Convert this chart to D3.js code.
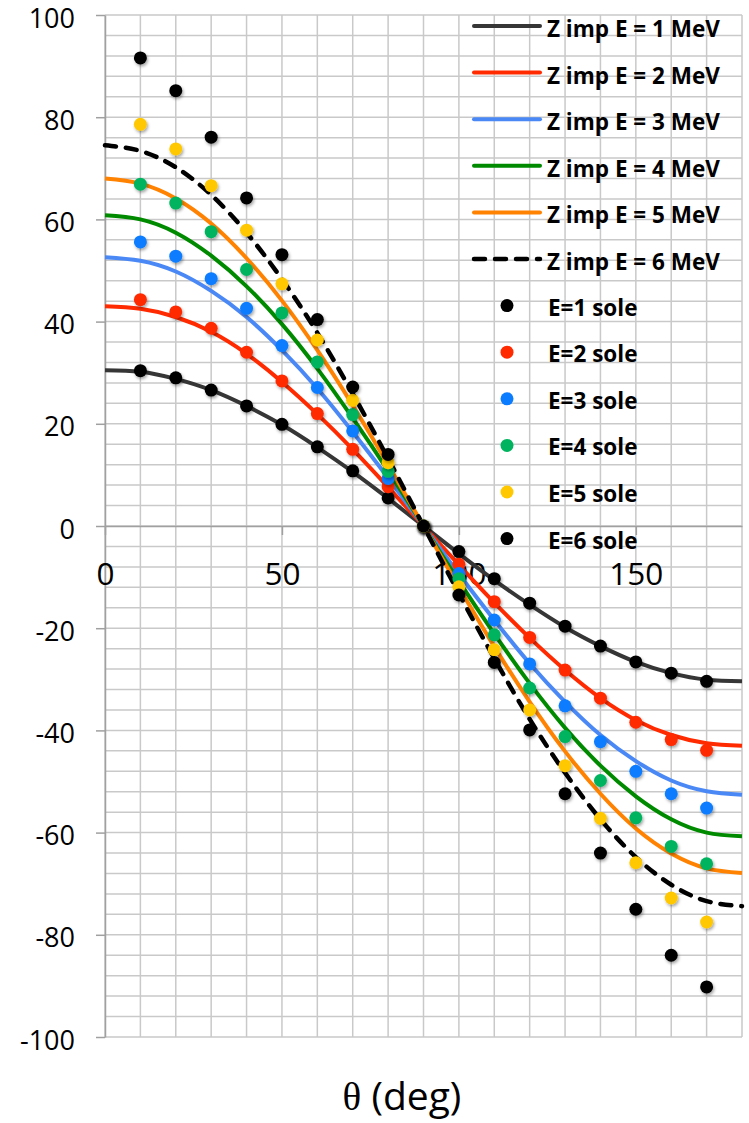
<!DOCTYPE html>
<html>
<head>
<meta charset="utf-8">
<script src="https://cdn.jsdelivr.net/npm/d3@7"></script>
<style>
  html, body { margin: 0; padding: 0; background: #ffffff; }
  svg { display: block; }
</style>
</head>
<body>
<div id="chart"></div>
<script>
// ---------- data ----------
const curveAngles = [0,10,20,30,40,50,60,70,80,90,100,110,120,130,140,150,160,170,180];
const zimpE1 = [30.5,30.2,28.8,26.6,23.5,19.8,15.4,10.6,5.4,0,-5.4,-10.6,-15.4,-19.8,-23.5,-26.6,-28.8,-30.1,-30.4];
const zimpE2 = [43.0,42.5,40.9,38.0,33.7,28.2,21.9,15.0,7.6,0,-7.6,-15.0,-21.9,-28.2,-33.7,-38.0,-40.9,-42.5,-43.0];
const zimpE3 = [52.6,51.9,49.8,46.0,40.9,34.4,26.9,18.4,9.4,0,-9.4,-18.4,-26.9,-34.4,-40.9,-46.0,-49.8,-51.9,-52.6];
const zimpE4 = [60.8,60.0,57.4,52.9,46.9,39.5,30.8,21.1,10.8,0,-10.8,-21.1,-30.8,-39.5,-46.9,-52.9,-57.4,-60.0,-60.7];
const zimpE5 = [68.0,67.0,64.1,59.2,52.4,44.1,34.4,23.6,12.0,0,-12.0,-23.6,-34.4,-44.1,-52.4,-59.2,-64.1,-67.0,-67.9];
const zimpE6 = [74.5,73.4,70.2,64.8,57.4,48.3,37.8,25.9,13.2,0,-13.2,-25.9,-37.8,-48.3,-57.4,-64.8,-70.2,-73.4,-74.4];

const dotAngles = [10,20,30,40,50,60,70,80,90,100,110,120,130,140,150,160,170];
const soleE1 = [30.4,29.0,26.6,23.5,19.9,15.5,10.8,5.5,0,-5.0,-10.3,-15.1,-19.6,-23.5,-26.6,-28.8,-30.4];
const soleE2 = [44.3,41.9,38.7,34.0,28.4,22.0,15.0,7.7,0,-7.5,-14.8,-21.8,-28.2,-33.7,-38.4,-41.8,-43.9];
const soleE3 = [55.6,52.8,48.4,42.6,35.3,27.1,18.6,9.3,0,-9.3,-18.4,-27.0,-35.2,-42.2,-48.0,-52.4,-55.2];
const soleE4 = [66.9,63.2,57.6,50.2,41.7,32.1,21.8,10.7,0,-10.3,-21.3,-31.7,-41.2,-49.8,-57.1,-62.7,-66.1];
const soleE5 = [78.6,73.8,66.6,57.9,47.4,36.4,24.6,12.4,0,-11.9,-24.2,-36.0,-46.9,-57.2,-65.9,-72.8,-77.5];
const soleE6 = [91.6,85.2,76.1,64.2,53.1,40.4,27.2,14.0,0,-13.5,-26.7,-39.9,-52.4,-64.0,-75.0,-84.0,-90.2];

const lineNames = ["Z imp E = 1 MeV","Z imp E = 2 MeV","Z imp E = 3 MeV","Z imp E = 4 MeV","Z imp E = 5 MeV","Z imp E = 6 MeV"];
const dotNames = ["E=1 sole","E=2 sole","E=3 sole","E=4 sole","E=5 sole","E=6 sole"];
const xTicks = [0,50,100,150];
const yTicks = [-100,-80,-60,-40,-20,0,20,40,60,80,100];
const xTitleSymbol = "θ";
const xTitleText = " (deg)";

// ---------- styles ----------
const lineColors = ["#363636","#ff2a00","#4a88f6","#008a00","#ff8200","#000000"];
const dotColors  = ["#000000","#ff2a00","#0a7cff","#00b45f","#ffc800","#000000"];

const W = 749, H = 1123;
const svg = d3.select("#chart").append("svg")
  .attr("width", W).attr("height", H)
  .style("font-family", "'Open Sans', sans-serif");
svg.append("rect").attr("width", W).attr("height", H).attr("fill", "#fff");

const defs = svg.append("defs");
const f = defs.append("filter").attr("id","shadow")
  .attr("x","-50%").attr("y","-50%").attr("width","200%").attr("height","200%");
f.append("feDropShadow").attr("dx",1.2).attr("dy",2).attr("stdDeviation",1.4)
  .attr("flood-color","#000").attr("flood-opacity",0.35);

const x = d3.scaleLinear().domain([0,180]).range([105,742]);
const y = d3.scaleLinear().domain([-100,100]).range([1037,15]);
const plainFmt = d => String(d);

// grid
const grid = svg.append("g");
grid.selectAll("line.v").data(d3.range(0,181,10)).join("line")
  .attr("x1", d=>x(d)).attr("x2", d=>x(d)).attr("y1", y(100)).attr("y2", y(-100))
  .attr("stroke","#c9c9c9").attr("stroke-width",1.5);
grid.selectAll("line.h").data(d3.range(-100,101,4)).join("line")
  .attr("y1", d=>y(d)).attr("y2", d=>y(d)).attr("x1", x(0)).attr("x2", x(180))
  .attr("stroke","#c9c9c9").attr("stroke-width",1.5);

// axes
const yAxis = svg.append("g").attr("transform",`translate(${x(0)},0)`)
  .call(d3.axisLeft(y).tickValues(yTicks).tickFormat(plainFmt).tickSize(9).tickSizeOuter(0).tickPadding(21));
yAxis.select(".domain").attr("stroke","#a0a0a0").attr("stroke-width",1.5);
yAxis.selectAll(".tick line").attr("stroke","#a0a0a0").attr("stroke-width",1.5);
yAxis.selectAll(".tick text").attr("font-size",27).attr("font-family","'Open Sans', sans-serif")
  .attr("fill","#000").attr("dy","0.45em");

const xAxis = svg.append("g").attr("transform",`translate(0,${y(0)})`)
  .call(d3.axisBottom(x).tickValues(xTicks).tickFormat(plainFmt).tickSize(9).tickSizeOuter(0).tickPadding(28));
xAxis.select(".domain").attr("stroke","#a0a0a0").attr("stroke-width",1.5);
xAxis.selectAll(".tick line").attr("stroke","#a0a0a0").attr("stroke-width",1.5);
xAxis.selectAll(".tick text").attr("font-size",31.5).attr("font-family","'Open Sans', sans-serif")
  .attr("fill","#000");

// x title
const title = svg.append("text").attr("x", 402).attr("y", 1110)
  .attr("text-anchor","middle").attr("font-size",39).attr("fill","#000");
title.append("tspan").attr("font-family","'Liberation Serif', serif").text(xTitleSymbol);
title.append("tspan").attr("font-family","'Open Sans', sans-serif").text(xTitleText);

// curves
const curves = [zimpE1, zimpE2, zimpE3, zimpE4, zimpE5, zimpE6];
const lineGen = d3.line().x(d=>x(d[0])).y(d=>y(d[1])).curve(d3.curveNatural);
curves.forEach((vals,i)=>{
  const pts = curveAngles.map((a,j)=>[a, vals[j]]);
  svg.append("path").attr("d", lineGen(pts))
    .attr("fill","none").attr("stroke", lineColors[i]).attr("stroke-width", i===5 ? 4.5 : 4)
    .attr("stroke-linecap", i===5 ? "round" : "butt")
    .attr("stroke-dasharray", i===5 ? "11,10" : null);
});

// dots
const soles = [soleE1, soleE2, soleE3, soleE4, soleE5, soleE6];
soles.forEach((vals,i)=>{
  svg.append("g").attr("filter","url(#shadow)")
    .selectAll("circle").data(dotAngles.map((a,j)=>[a, vals[j]])).join("circle")
    .attr("cx", d=>x(d[0])).attr("cy", d=>y(d[1])).attr("r",6.5)
    .attr("fill", dotColors[i]);
});

// legend
const rowY0 = 26, rowDy = 46.6;
const leg = svg.append("g").attr("font-family","'Open Sans', sans-serif").attr("font-weight","bold");
lineNames.forEach((name,i)=>{
  const yy = rowY0 + i*rowDy;
  leg.append("line").attr("x1",474).attr("x2",540).attr("y1",yy).attr("y2",yy)
    .attr("stroke", lineColors[i]).attr("stroke-width", i===5 ? 4.5 : 4).attr("stroke-linecap","round")
    .attr("stroke-dasharray", i===5 ? "11,10" : null);
  leg.append("text").attr("x",547).attr("y",yy+11).attr("font-size",22.5).attr("fill","#000").text(name);
});
dotNames.forEach((name,i)=>{
  const yy = rowY0 + (i+6)*rowDy;
  leg.append("circle").attr("cx",507).attr("cy",yy).attr("r",6.5).attr("fill",dotColors[i]);
  leg.append("text").attr("x",548).attr("y",yy+10).attr("font-size",22.5).attr("fill","#000").text(name);
});
</script>
</body>
</html>
